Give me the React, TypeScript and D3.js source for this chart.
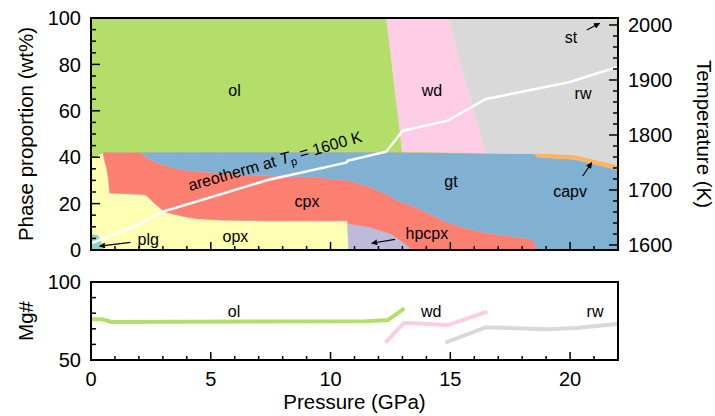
import React from 'react';
import * as d3 from 'd3';

// ---------- data ----------
const pressure = [0, 0.3, 0.5, 0.55, 0.65, 0.74, 0.78, 2.03, 2.3, 2.65, 3.07, 3.48, 4.04, 4.46, 5.43, 7.4, 9.1, 10.7, 10.75, 11.63, 12.33, 12.6, 13.0, 13.43, 13.7, 14.54, 14.92, 15.65, 16.49, 16.6, 18.43, 18.5, 18.64, 20.2, 20.8, 22];

const plg = [7, 6.5, 2, 0, 0, 0, 0, 0, 0, 0, 0, 0, 0, 0, 0, 0, 0, 0, 0, 0, 0, 0, 0, 0, 0, 0, 0, 0, 0, 0, 0, 0, 0, 0, 0, 0];
const opx = [32.6, 34.5, 40.2, 39.5, 35.5, 30, 24.6, 24, 23.7, 20.1, 16.5, 15.4, 14.1, 13.5, 12.9, 12.6, 12.6, 12.6, 0, 0, 0, 0, 0, 0, 0, 0, 0, 0, 0, 0, 0, 0, 0, 0, 0, 0];
const hpcpx = [0, 0, 0, 0, 0, 0, 0, 0, 0, 0, 0, 0, 0, 0, 0, 0, 0, 0, 11.3, 9.8, 7.5, 6.5, 3.5, 0, 0, 0, 0, 0, 0, 0, 0, 0, 0, 0, 0, 0];
const cpx = [0, 0, 0, 2.7, 6.7, 12.2, 17.6, 18.2, 16.3, 18, 20, 19.8, 20.2, 20.3, 20.2, 19.3, 19, 17.5, 18.7, 17.5, 16.5, 15.8, 17, 19, 17.8, 13.5, 11.8, 9.4, 7.4, 7.2, 4.6, 3, 0, 0, 0, 0];
const gt = [0, 0, 0, 0, 0, 0, 0, 0, 2.3, 4.2, 5.8, 7.1, 8, 8.5, 9.2, 10.4, 10.7, 12.2, 12.3, 15, 18.3, 20, 21.7, 23.2, 24.4, 28.6, 30.2, 32.5, 34.4, 34.6, 37, 38.6, 40, 39, 37.5, 34.5];
const capv = [0, 0, 0, 0, 0, 0, 0, 0, 0, 0, 0, 0, 0, 0, 0, 0, 0, 0, 0, 0, 0, 0, 0, 0, 0, 0, 0, 0, 0, 0, 0, 0, 1.8, 2.1, 2.1, 2.1];
const ol = [60.4, 59, 57.8, 57.8, 57.8, 57.8, 57.8, 57.8, 57.7, 57.7, 57.7, 57.7, 57.7, 57.7, 57.7, 57.7, 57.7, 57.7, 57.7, 57.7, 57.7, 34.4, 0, 0, 0, 0, 0, 0, 0, 0, 0, 0, 0, 0, 0, 0];
const wd = [0, 0, 0, 0, 0, 0, 0, 0, 0, 0, 0, 0, 0, 0, 0, 0, 0, 0, 0, 0, 0, 23.4, 57.8, 57.8, 57.8, 57.9, 58, 31, 0, 0, 0, 0, 0, 0, 0, 0];
const rw = [0, 0, 0, 0, 0, 0, 0, 0, 0, 0, 0, 0, 0, 0, 0, 0, 0, 0, 0, 0, 0, 0, 0, 0, 0, 0, 0, 27.1, 58.2, 58.2, 58.4, 58.4, 58.2, 58.9, 60.4, 62.4];
const st = [0, 0, 0, 0, 0, 0, 0, 0, 0, 0, 0, 0, 0, 0, 0, 0, 0, 0, 0, 0, 0, 0, 0, 0, 0, 0, 0, 0, 0, 0, 0, 0, 0, 0, 0, 1];

const phaseKeys = ['plg', 'opx', 'hpcpx', 'cpx', 'gt', 'capv', 'ol', 'wd', 'rw', 'st'];
const phaseValues: Record<string, number[]> = { plg, opx, hpcpx, cpx, gt, capv, ol, wd, rw, st };
const phaseColors: Record<string, string> = {
  plg: '#8dd3c7', opx: '#ffffb3', hpcpx: '#bebada', cpx: '#fb8072', gt: '#80b1d3',
  capv: '#fdb462', ol: '#b3de69', wd: '#fccde5', rw: '#d9d9d9', st: '#ffed6f',
};

// areotherm (right axis, K)
const areoP = [0, 1.83, 2.96, 7.38, 10.65, 10.72, 12.32, 13.01, 14.89, 16.49, 19.96, 22];
const areoT = [1603, 1633.6, 1660, 1718.2, 1749.6, 1753.3, 1769.6, 1807.8, 1826, 1865.5, 1895.8, 1924];

// Mg# lines
const olMgP = [0, 0.45, 0.86, 11.49, 12.39, 13.08];
const olMg = [76.1, 76.1, 74.4, 74.8, 75.6, 83.1];
const wdMgP = [12.29, 13.08, 14.89, 16.55];
const wdMg = [61.1, 73.9, 72.4, 81];
const rwMgP = [14.79, 16.49, 18.99, 20.3, 22];
const rwMg = [61.1, 71, 69.7, 70.5, 73.2];

// ticks
const pressureTicks = [0, 5, 10, 15, 20];
const phaseTicks = [0, 20, 40, 60, 80, 100];
const tempTicks = [1600, 1700, 1800, 1900, 2000];
const mgTicks = [50, 100];

// labels (data coords: pressure, wt% baseline)
const phaseLabels = [
  { t: 'ol', p: 5.99, v: 66.4 }, { t: 'wd', p: 14.23, v: 66.5 }, { t: 'rw', p: 20.54, v: 65.1 },
  { t: 'st', p: 20.04, v: 89.2 }, { t: 'gt', p: 15.03, v: 27.3 }, { t: 'capv', p: 20, v: 22.8 },
  { t: 'cpx', p: 9.02, v: 18.7 }, { t: 'hpcpx', p: 14.02, v: 4.6 }, { t: 'opx', p: 6.03, v: 3.6 },
  { t: 'plg', p: 2.39, v: 2.2 },
];
const arrows = [
  { p0: 1.65, v0: 3.3, p1: 0.36, v1: 1.7 },
  { p0: 12.69, v0: 4.6, p1: 11.72, v1: 2.9 },
  { p0: 20.53, v0: 31.9, p1: 20.9, v1: 37.6 },
  { p0: 20.7, v0: 94.8, p1: 21.23, v1: 97.7 },
];
const mgLabels = [{ t: 'ol', p: 5.97, m: 77.6 }, { t: 'wd', p: 14.2, m: 77.6 }, { t: 'rw', p: 21.04, m: 77.6 }];

const FONT = '"Liberation Sans", Arial, Helvetica, sans-serif';

export default function App() {
  const x = d3.scaleLinear().domain([0, 22]).range([91, 618]);
  const yTop = d3.scaleLinear().domain([0, 100]).range([250, 18]);
  const yT = d3.scaleLinear().domain([1590.9, 2012.7]).range([250, 18]);
  const yMg = d3.scaleLinear().domain([50, 100]).range([360, 282]);

  const rows = pressure.map((p, i) => {
    const r: any = { p };
    phaseKeys.forEach((k) => (r[k] = phaseValues[k][i]));
    return r;
  });
  const series = d3.stack().keys(phaseKeys)(rows);
  const area = d3.area<any>().x((d) => x(d.data.p)).y0((d) => yTop(d[0])).y1((d) => yTop(d[1]));

  const areoLine = d3.line<number>().x((_, i) => x(areoP[i])).y((t) => yT(t));
  const mgLine = (ps: number[]) => d3.line<number>().x((_, i) => x(ps[i])).y((m) => yMg(m));

  const [x0, x1] = x.range();
  const minorP = d3.range(0, 22.01, 1).filter((v) => v % 5 !== 0);
  const minorPhase = d3.range(0, 101, 5).filter((v) => v % 20 !== 0);
  const minorT = d3.range(1600, 2001, 20).filter((v) => v % 100 !== 0);
  const minorMg = [60, 70, 80, 90];

  const tick = { stroke: '#000', strokeWidth: 1.5 };

  return (
    <svg width={715} height={416} style={{ position: 'absolute', left: 0, top: 0, background: '#fff' }} fontFamily={FONT}>
      <defs>
        <clipPath id="topclip">
          <rect x={x0} y={18} width={x1 - x0} height={232} />
        </clipPath>
        <marker id="ah" viewBox="0 0 10 10" refX="9" refY="5" markerWidth="7" markerHeight="6" markerUnits="userSpaceOnUse" orient="auto">
          <path d="M0,0 L10,5 L0,10 z" fill="#000" />
        </marker>
      </defs>

      {/* ---------- top panel ---------- */}
      <g clipPath="url(#topclip)">
        {series.map((s) => (
          <path key={s.key} d={area(s as any) || ''} fill={phaseColors[s.key]} stroke={phaseColors[s.key]} strokeWidth={0.4} />
        ))}
        <path d={areoLine(areoT) || ''} fill="none" stroke="#fff" strokeWidth={2.5} />
      </g>

      {phaseLabels.map((l) => (
        <text key={l.t} x={x(l.p)} y={yTop(l.v)} fontSize={16} textAnchor="middle" fill="#000">{l.t}</text>
      ))}
      {arrows.map((a, i) => (
        <line key={i} x1={x(a.p0)} y1={yTop(a.v0)} x2={x(a.p1)} y2={yTop(a.v1)} stroke="#000" strokeWidth={1.2} markerEnd="url(#ah)" />
      ))}
      <text transform={`translate(${x(4.13)},${yTop(25.4)}) rotate(-16)`} fontSize={16} fill="#000">
        areotherm at <tspan fontStyle="italic">T</tspan>
        <tspan fontSize={11} dy={4}>p</tspan>
        <tspan dy={-4}> = 1600 K</tspan>
      </text>

      {/* ticks top panel */}
      {phaseTicks.map((v) => <line key={'pl' + v} x1={x0} x2={x0 + 9} y1={yTop(v)} y2={yTop(v)} {...tick} />)}
      {minorPhase.map((v) => <line key={'pm' + v} x1={x0} x2={x0 + 5} y1={yTop(v)} y2={yTop(v)} {...tick} />)}
      {tempTicks.map((v) => <line key={'tl' + v} x1={x1} x2={x1 - 9} y1={yT(v)} y2={yT(v)} {...tick} />)}
      {minorT.map((v) => <line key={'tm' + v} x1={x1} x2={x1 - 5} y1={yT(v)} y2={yT(v)} {...tick} />)}
      {pressureTicks.map((v) => <line key={'xt' + v} x1={x(v)} x2={x(v)} y1={250} y2={242} {...tick} />)}
      {minorP.map((v) => <line key={'xm' + v} x1={x(v)} x2={x(v)} y1={250} y2={246} {...tick} />)}
      <rect x={x0} y={18} width={x1 - x0} height={232} fill="none" stroke="#000" strokeWidth={2} />

      {phaseTicks.map((v) => (
        <text key={'plt' + v} x={81} y={yTop(v)} dy="0.36em" fontSize={20} textAnchor="end">{v}</text>
      ))}
      {tempTicks.map((v) => (
        <text key={'tlt' + v} x={628} y={yT(v)} dy="0.36em" fontSize={20} textAnchor="start">{v}</text>
      ))}
      <text transform={`translate(33,${(18 + 250) / 2}) rotate(-90)`} fontSize={20.5} textAnchor="middle">Phase proportion (wt%)</text>
      <text transform={`translate(697,${(18 + 250) / 2}) rotate(90)`} fontSize={20.5} textAnchor="middle">Temperature (K)</text>

      {/* ---------- bottom panel ---------- */}
      <path d={mgLine(olMgP)(olMg) || ''} fill="none" stroke={phaseColors.ol} strokeWidth={4} />
      <path d={mgLine(wdMgP)(wdMg) || ''} fill="none" stroke={phaseColors.wd} strokeWidth={4} />
      <path d={mgLine(rwMgP)(rwMg) || ''} fill="none" stroke={phaseColors.rw} strokeWidth={4} />
      {mgLabels.map((l) => (
        <text key={'mg' + l.t} x={x(l.p)} y={yMg(l.m)} fontSize={16} textAnchor="middle">{l.t}</text>
      ))}
      {minorMg.map((v) => <line key={'mm' + v} x1={x0} x2={x0 + 5} y1={yMg(v)} y2={yMg(v)} {...tick} />)}
      {pressureTicks.map((v) => <line key={'bx' + v} x1={x(v)} x2={x(v)} y1={360} y2={352} {...tick} />)}
      {minorP.map((v) => <line key={'bm' + v} x1={x(v)} x2={x(v)} y1={360} y2={356} {...tick} />)}
      <rect x={x0} y={282} width={x1 - x0} height={78} fill="none" stroke="#000" strokeWidth={2} />
      {mgTicks.map((v) => (
        <text key={'mgt' + v} x={81} y={yMg(v)} dy="0.36em" fontSize={20} textAnchor="end">{v}</text>
      ))}
      {pressureTicks.map((v) => (
        <text key={'pt' + v} x={x(v)} y={386} fontSize={20} textAnchor="middle">{v}</text>
      ))}
      <text x={(x0 + x1) / 2} y={409} fontSize={20.5} textAnchor="middle">Pressure (GPa)</text>
      <text transform={`translate(33,321) rotate(-90)`} fontSize={20.5} textAnchor="middle">Mg#</text>
    </svg>
  );
}
